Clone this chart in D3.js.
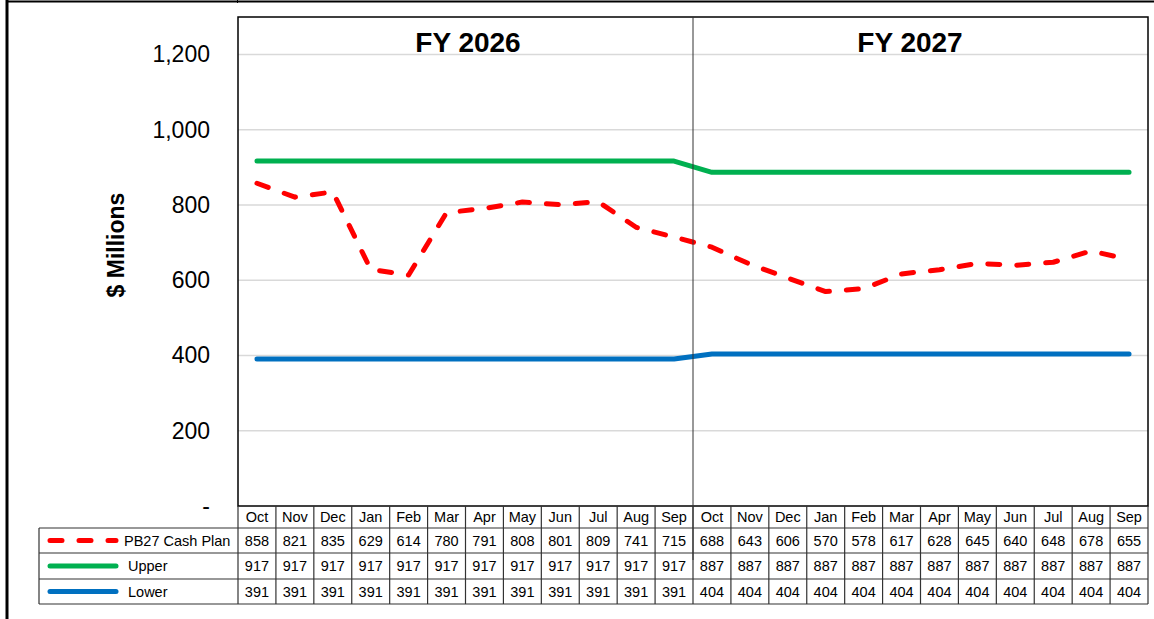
<!DOCTYPE html>
<html>
<head>
<meta charset="utf-8">
<script src="https://cdn.jsdelivr.net/npm/d3@7"></script>
<style>
  body { margin: 0; background: #fff; }
  svg { display: block; font-family: "Liberation Sans", Arial, sans-serif; }
</style>
</head>
<body>
<svg id="chart" width="1154" height="619"></svg>
<script>
// Data
const months = ['Oct', 'Nov', 'Dec', 'Jan', 'Feb', 'Mar', 'Apr', 'May', 'Jun', 'Jul', 'Aug', 'Sep',
                'Oct', 'Nov', 'Dec', 'Jan', 'Feb', 'Mar', 'Apr', 'May', 'Jun', 'Jul', 'Aug', 'Sep']
const fiscalYears = ['FY 2026', 'FY 2027']
const cashPlan = [858, 821, 835, 629, 614, 780, 791, 808, 801, 809, 741, 715,
                  688, 643, 606, 570, 578, 617, 628, 645, 640, 648, 678, 655]
const upper = [917, 917, 917, 917, 917, 917, 917, 917, 917, 917, 917, 917,
               887, 887, 887, 887, 887, 887, 887, 887, 887, 887, 887, 887]
const lower = [391, 391, 391, 391, 391, 391, 391, 391, 391, 391, 391, 391,
               404, 404, 404, 404, 404, 404, 404, 404, 404, 404, 404, 404]
const yTicks = [0, 200, 400, 600, 800, 1000, 1200]

const series = [
  { name: 'PB27 Cash Plan', values: cashPlan, color: '#ff0000', dash: '12,17', textX: 124 },
  { name: 'Upper', values: upper, color: '#00b050', dash: null, textX: 128 },
  { name: 'Lower', values: lower, color: '#0070c0', dash: null, textX: 128 }
]

// Layout
const plot = { left: 238, right: 1148, top: 17, bottom: 506 }
const table = { left: 39, rowTops: [506, 528, 553, 579, 604] }

const svg = d3.select('#chart')

// Outer frame
svg.append('line').attr('x1', 6).attr('x2', 1154).attr('y1', 1.5).attr('y2', 1.5)
  .attr('stroke', '#000').attr('stroke-width', 2)
svg.append('line').attr('x1', 7).attr('x2', 7).attr('y1', 0).attr('y2', 619)
  .attr('stroke', '#000').attr('stroke-width', 3)
svg.append('line').attr('x1', 237.5).attr('x2', 237.5).attr('y1', 0).attr('y2', 3)
  .attr('stroke', '#000').attr('stroke-width', 1)

// Scales
const xScale = d3.scaleBand()
  .domain(d3.range(months.length))
  .range([plot.left, plot.right])
const xMid = i => xScale(i) + xScale.bandwidth() / 2

const yScale = d3.scaleLinear()
  .domain([0, 1300])
  .range([plot.bottom, plot.top])

// Gridlines
svg.append('g')
  .selectAll('line')
  .data(yTicks.filter(d => d > 0))
  .enter()
  .append('line')
  .attr('x1', plot.left).attr('x2', plot.right)
  .attr('y1', d => yScale(d)).attr('y2', d => yScale(d))
  .attr('stroke', '#d9d9d9').attr('stroke-width', 1.5)

// Y axis labels
const yAxis = d3.axisLeft(yScale)
  .tickValues(yTicks)
  .tickSize(0)
  .tickPadding(28)
  .tickFormat(d => d === 0 ? '-' : d3.format(',')(d))

const yG = svg.append('g')
  .attr('transform', `translate(${plot.left}, 0)`)
  .call(yAxis)
yG.select('.domain').remove()
yG.selectAll('text')
  .attr('font-family', '"Liberation Sans", Arial, sans-serif')
  .attr('font-size', 23)
  .attr('fill', '#000')

// Y axis title
svg.append('text')
  .attr('transform', `translate(124, 245) rotate(-90)`)
  .attr('text-anchor', 'middle')
  .attr('font-size', 23)
  .attr('font-weight', 'bold')
  .text('$ Millions')

// Fiscal year titles
svg.selectAll('.fy')
  .data(fiscalYears)
  .enter()
  .append('text')
  .attr('class', 'fy')
  .attr('x', (d, i) => i === 0 ? 468 : 910)
  .attr('y', 52)
  .attr('text-anchor', 'middle')
  .attr('font-size', 28)
  .attr('font-weight', 'bold')
  .text(d => d)

// Lines
const line = d3.line()
  .x((d, i) => xMid(i))
  .y(d => yScale(d))

series.slice().reverse().forEach(s => {
  svg.append('path')
    .datum(s.values)
    .attr('d', line)
    .attr('fill', 'none')
    .attr('stroke', s.color)
    .attr('stroke-width', 5)
    .attr('stroke-linecap', 'round')
    .attr('stroke-linejoin', 'round')
    .attr('stroke-dasharray', s.dash)
})

// Plot frame
svg.append('rect')
  .attr('x', plot.left).attr('y', plot.top)
  .attr('width', plot.right - plot.left).attr('height', plot.bottom - plot.top)
  .attr('fill', 'none').attr('stroke', '#000').attr('stroke-width', 1.5)

// Year divider
svg.append('line')
  .attr('x1', xScale(12)).attr('x2', xScale(12))
  .attr('y1', plot.top).attr('y2', 560)
  .attr('stroke', '#333').attr('stroke-width', 1)

// Data table
const tbl = svg.append('g')
const gridStroke = '#333'

// horizontal rules
table.rowTops.slice(1).forEach(y => {
  tbl.append('line')
    .attr('x1', table.left).attr('x2', plot.right)
    .attr('y1', y).attr('y2', y)
    .attr('stroke', gridStroke).attr('stroke-width', 1.2)
})
// left edge of legend column
tbl.append('line')
  .attr('x1', table.left).attr('x2', table.left)
  .attr('y1', table.rowTops[1]).attr('y2', table.rowTops[4])
  .attr('stroke', gridStroke).attr('stroke-width', 1.2)
// column separators
d3.range(months.length + 1).forEach(i => {
  const x = i < months.length ? xScale(i) : plot.right
  tbl.append('line')
    .attr('x1', x).attr('x2', x)
    .attr('y1', table.rowTops[0]).attr('y2', table.rowTops[4])
    .attr('stroke', gridStroke).attr('stroke-width', 1.2)
})

// month labels
tbl.selectAll('.month')
  .data(months)
  .enter()
  .append('text')
  .attr('class', 'month')
  .attr('x', (d, i) => xMid(i))
  .attr('y', (table.rowTops[0] + table.rowTops[1]) / 2 + 5)
  .attr('text-anchor', 'middle')
  .attr('font-size', 14.5)
  .text(d => d)

// value rows and legend
series.forEach((s, r) => {
  const yMid = (table.rowTops[r + 1] + table.rowTops[r + 2]) / 2
  tbl.selectAll(`.val${r}`)
    .data(s.values)
    .enter()
    .append('text')
    .attr('x', (d, i) => xMid(i))
    .attr('y', yMid + 5)
    .attr('text-anchor', 'middle')
    .attr('font-size', 14.5)
    .text(d => d)

  tbl.append('line')
    .attr('x1', 50).attr('x2', 116)
    .attr('y1', yMid).attr('y2', yMid)
    .attr('stroke', s.color)
    .attr('stroke-width', 5)
    .attr('stroke-linecap', 'round')
    .attr('stroke-dasharray', s.dash)

  tbl.append('text')
    .attr('x', s.textX)
    .attr('y', yMid + 5)
    .attr('font-size', 14.5)
    .text(s.name)
})
</script>
</body>
</html>
